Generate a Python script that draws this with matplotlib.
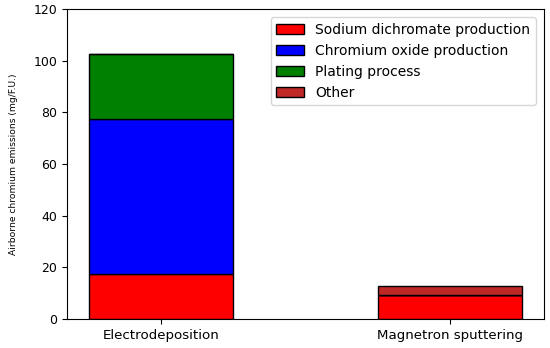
import matplotlib
matplotlib.use("Agg")
import matplotlib.pyplot as plt
import numpy as np

categories = ["Electrodeposition", "Magnetron sputtering"]
series_names = ["Sodium dichromate production", "Chromium oxide production", "Plating process", "Other"]
sodium = [17.6, 9.3]
chromium_oxide = [59.8, 0.0]
plating = [25.1, 0.0]
other = [0.0, 3.4]
colors = ["#ff0000", "#0000ff", "#008000", "#c02828"]

fig = plt.figure(figsize=(5.5, 3.48), dpi=100)
ax = fig.add_axes([0.1218, 0.0833, 0.867, 0.891])
x = np.arange(len(categories))
bottom = np.zeros(len(categories))
for name, vals, c in zip(series_names, [sodium, chromium_oxide, plating, other], colors):
    vals = np.array(vals)
    ax.bar(x, vals, 0.5, bottom=bottom, color=c, edgecolor="black", linewidth=1, label=name)
    bottom += vals
ax.set_ylim(0, 120)
ax.set_xticks(x)
ax.set_xticklabels(categories, fontsize=9.6)
ax.tick_params(axis="y", labelsize=9)
ax.set_ylabel("Airborne chromium emissions (mg/F.U.)", fontsize=6.6, labelpad=11)
ax.legend(loc="upper right", fontsize=10, borderaxespad=0.6)
fig.savefig("out.png", dpi=100)
